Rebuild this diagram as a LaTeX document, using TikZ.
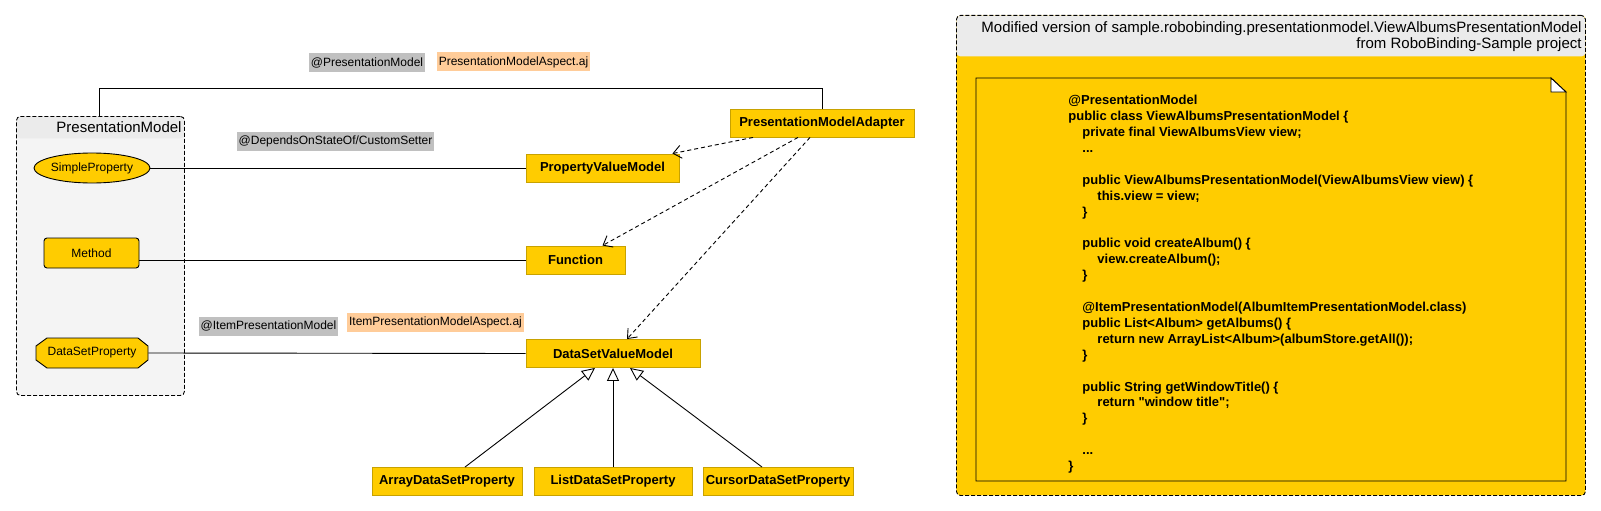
\documentclass[tikz,border=0pt]{standalone}
\usepackage{fontspec}
\setmainfont{Liberation Sans}
\usepackage{xcolor}
\usetikzlibrary{arrows.meta,positioning,calc,shapes.geometric}

\definecolor{gold}{HTML}{FFCC00}
\definecolor{goldline}{HTML}{C8A200}
\definecolor{taggray}{HTML}{C0C0C0}
\definecolor{tagpeach}{HTML}{FFCC99}
\definecolor{headgray}{HTML}{EBEBEB}
\definecolor{bodygray}{HTML}{F4F4F4}

\begin{document}
\begin{tikzpicture}[
    x=1pt, y=-1pt,
    line width=0.9pt,
    cls/.style={
        draw=goldline,
        fill=gold,
        rectangle,
        minimum width=#1,
        minimum height=28pt,
        inner xsep=0pt,
        font=\fontsize{13}{15}\selectfont\bfseries
    },
    elem/.style={
        draw,
        fill=gold,
        minimum width=#1,
        minimum height=30pt,
        inner sep=0pt,
        font=\fontsize{12}{14}\selectfont
    },
    tag/.style={
        fill=#1,
        inner xsep=2pt,
        inner ysep=0pt,
        minimum height=19pt,
        font=\fontsize{12}{14}\selectfont
    },
    group/.style={
        draw,
        dash pattern=on 4pt off 2pt,
        rounded corners=4pt,
        inner sep=0pt,
        anchor=north west
    },
    dep/.style={
        dash pattern=on 4pt off 3pt,
        -{Straight Barb[length=8pt,width=13pt]}
    },
    inherit/.style={
        -{Triangle[open,length=13pt,width=12pt,fill=white]}
    }
]
\useasboundingbox (0,0) rectangle (1601,511);

% =========================================================
% PresentationModel group
% =========================================================
\node[group, fill=bodygray, minimum width=168pt, minimum height=279pt,
      path picture={\fill[headgray] (path picture bounding box.north west)
        rectangle ([yshift=-22pt]path picture bounding box.north east);}] (pmgroup) at (16,116) {};
\node[anchor=east, inner sep=0pt, font=\fontsize{15}{17}\selectfont] (pmtitle) at (182,127) {PresentationModel};

% members
\node[elem=108pt, ellipse] (simple) at (92,168) {SimpleProperty};
\node[elem=95pt, rounded corners=3pt] (method) at (91.5,253) {Method};

% octagon drawn by hand, label on top
\draw[fill=gold] (47,338) -- (138,338) -- (148,346) -- (148,360)
    -- (138,368) -- (47,368) -- (36,360) -- (36,346) -- cycle;
\node[minimum width=112pt, minimum height=30pt, inner sep=0pt,
      font=\fontsize{12}{14}\selectfont] (dsprop) at (92,353) {DataSetProperty};

% =========================================================
% runtime classes
% =========================================================
\node[cls=184pt] (adapter) at (822,123) {PresentationModelAdapter};
\node[cls=153pt] (pvm)     at (602.5,168) {PropertyValueModel};
\node[cls=99pt]  (func)    at (575.5,260) {Function};
\node[cls=174pt] (dsvm)    at (613,353.5) {DataSetValueModel};

\node[cls=150pt] (arrayp)  at (447,481.5) {ArrayDataSetProperty};
\node[cls=158pt] (listp)   at (613,481.5) {ListDataSetProperty};
\node[cls=150pt] (cursorp) at (778,481.5) {CursorDataSetProperty};

% annotation tags
\node[tag=taggray]  (pmtag)      at (367,62.5)  {@PresentationModel};
\node[tag=tagpeach] (pmaspect)   at (513.5,62)  {PresentationModelAspect.aj};
\node[tag=taggray]  (dependstag) at (335.5,141.5) {@DependsOnStateOf/CustomSetter};
\node[tag=taggray]  (itemtag)    at (268.5,326) {@ItemPresentationModel};
\node[tag=tagpeach] (itemaspect) at (435.5,322.5) {ItemPresentationModelAspect.aj};

% connectors
\coordinate (pmtop) at ($(pmgroup.north west)+(83,0)$);
\draw (pmtop) |- ([yshift=20pt]adapter.north) -- (adapter.north);

\draw (simple.east) -- (pvm.west);
\draw (func.west) -- (func.west -| method.east);
\draw (dsprop.east) -- (dsvm.west);

\draw[dep] ([xshift=-69pt]adapter.south) -- ([xshift=-7pt]pvm.north east);
\draw[dep] ([xshift=-24pt]adapter.south) -- ([xshift=27pt]func.north);
\draw[dep] ([xshift=-12pt]adapter.south) -- ([xshift=14pt]dsvm.north);

\draw[inherit] ([xshift=18pt]arrayp.north) -- ([xshift=-18pt]dsvm.south);
\draw[inherit] (listp.north) -- (dsvm.south);
\draw[inherit] ([xshift=-16pt]cursorp.north) -- ([xshift=17pt]dsvm.south);

% =========================================================
% sample code panel
% =========================================================
\node[group, fill=gold, minimum width=629pt, minimum height=480pt,
      path picture={\fill[headgray] (path picture bounding box.north west)
        rectangle ([yshift=-41pt]path picture bounding box.north east);}] (samplepanel) at (956,15) {};
\node[anchor=north east, align=right, inner sep=0pt, font=\fontsize{15}{16.5}\selectfont] (paneltitle) at (1582,21)
    {Modified version of sample.robobinding.presentationmodel.ViewAlbumsPresentationModel\\from RoboBinding-Sample project};

% note with folded corner
\draw[fill=gold] (976,78) -- (1551,78) -- (1566,92) -- (1566,481) -- (976,481) -- cycle;
\draw[fill=white] (1551,78) -- (1551,92) -- (1566,92) -- cycle;

\node[anchor=north west, align=left, inner sep=0pt, font=\fontsize{13}{15.9}\selectfont\bfseries] (code) at (1068,95) {%
@PresentationModel\\
public class ViewAlbumsPresentationModel \{\\
\hspace*{14pt}private final ViewAlbumsView view;\\
\hspace*{14pt}...\\[15.9pt]
\hspace*{14pt}public ViewAlbumsPresentationModel(ViewAlbumsView view) \{\\
\hspace*{29pt}this.view = view;\\
\hspace*{14pt}\}\\[15.9pt]
\hspace*{14pt}public void createAlbum() \{\\
\hspace*{29pt}view.createAlbum();\\
\hspace*{14pt}\}\\[15.9pt]
\hspace*{14pt}@ItemPresentationModel(AlbumItemPresentationModel.class)\\
\hspace*{14pt}public List<Album> getAlbums() \{\\
\hspace*{29pt}return new ArrayList<Album>(albumStore.getAll());\\
\hspace*{14pt}\}\\[15.9pt]
\hspace*{14pt}public String getWindowTitle() \{\\
\hspace*{29pt}return \textquotedbl window title\textquotedbl;\\
\hspace*{14pt}\}\\[15.9pt]
\hspace*{14pt}...\\
\}};

\end{tikzpicture}
\end{document}
